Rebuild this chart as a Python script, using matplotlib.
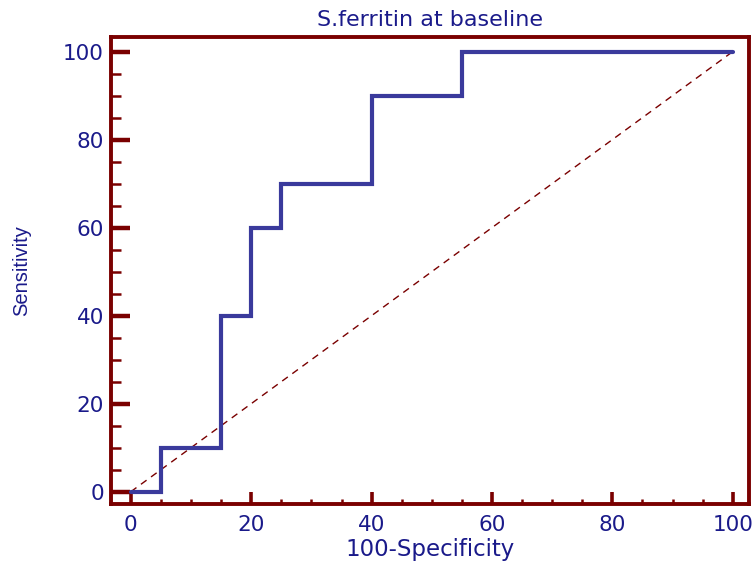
import matplotlib
matplotlib.use("Agg")
import matplotlib.pyplot as plt
from matplotlib.ticker import MultipleLocator

# ROC step curve (100-Specificity, Sensitivity)
fpr = [0, 5, 5, 15, 15, 20, 20, 25, 25, 40, 40, 55, 55, 100]
tpr = [0, 0, 10, 10, 40, 40, 60, 60, 70, 70, 90, 90, 100, 100]
diag_x = [0, 100]
diag_y = [0, 100]
x_ticks = [0, 20, 40, 60, 80, 100]
y_ticks = [0, 20, 40, 60, 80, 100]

spine_c = "#7a0000"
text_c = "#1a1a8a"
line_c = "#3a3a9c"

plt.rcParams['font.family'] = ['DejaVu Sans']

fig = plt.figure(figsize=(7.52, 5.62), dpi=100)
ax = fig.add_axes([0.1476, 0.1032, 0.996 - 0.1476, 0.934 - 0.1032])

ax.plot(diag_x, diag_y, color=spine_c, lw=1.0, ls=(0, (5, 4)))
ax.plot(fpr, tpr, color=line_c, lw=3.0, solid_capstyle='round', solid_joinstyle='miter')

ax.set_xlim(-3.3, 102.7)
ax.set_ylim(-2.8, 103.3)
ax.set_xticks(x_ticks)
ax.set_yticks(y_ticks)
ax.xaxis.set_minor_locator(MultipleLocator(5))
ax.yaxis.set_minor_locator(MultipleLocator(5))

for s in ax.spines.values():
    s.set_color(spine_c)
    s.set_linewidth(2.8)

ax.tick_params(axis='both', which='both', direction='in', color=spine_c,
               labelcolor=text_c, labelsize=15.5, top=False, right=False)
ax.tick_params(axis='y', which='major', length=13.5, width=3.2, pad=5)
ax.tick_params(axis='y', which='minor', length=7.5, width=1.8)
ax.tick_params(axis='x', which='major', length=8.5, width=2.6, pad=8)
ax.tick_params(axis='x', which='minor', length=3.5, width=1.8)

ax.set_xlabel("100-Specificity", color=text_c, fontsize=16.5, labelpad=2)
ax.set_ylabel("Sensitivity", color=text_c, fontsize=14.5,
              family=['Liberation Sans Narrow', 'Liberation Sans'], labelpad=23)
ax.set_title("S.ferritin at baseline", color=text_c, fontsize=16, pad=8)

fig.savefig("out.png", dpi=100)
